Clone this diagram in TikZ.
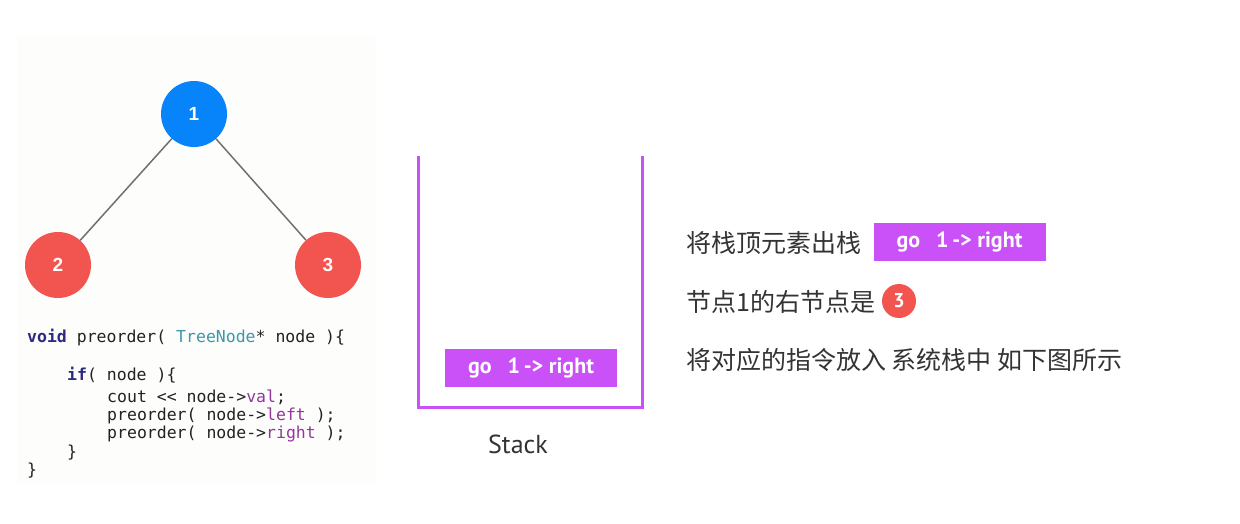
\documentclass[tikz,border=0pt]{standalone}
\usepackage{fontspec}
\setmainfont{PT Sans}
\newfontfamily\cjk{Noto Sans CJK SC}
\newfontfamily\codefont{DejaVu Sans Mono}
\newfontfamily\digitfont{Liberation Sans}
\newfontfamily\latinfont{PT Sans}
\definecolor{nodeblue}{RGB}{8,132,250}
\definecolor{nodered}{RGB}{242,85,80}
\definecolor{stackpurple}{RGB}{201,81,247}
\definecolor{edgegray}{RGB}{112,112,112}
\definecolor{panelbg}{RGB}{253,253,252}
\definecolor{txt}{RGB}{51,51,51}
\definecolor{kwnavy}{RGB}{42,42,128}
\definecolor{kwteal}{RGB}{59,154,166}
\definecolor{kwpurple}{RGB}{147,56,154}
\definecolor{codetxt}{RGB}{34,34,34}
\tikzset{
  treenode/.style={circle, minimum size=66pt, inner sep=0pt, text=white,
    font=\digitfont\fontsize{19}{19}\selectfont\bfseries},
  treeedge/.style={draw=edgegray, line width=1.5pt},
  codeline/.style={anchor=base west, inner sep=0pt, text=codetxt,
    font=\codefont\fontsize{16.5}{18}\selectfont},
  cmdbox/.style={fill=stackpurple, minimum width=172pt, minimum height=38pt,
    inner sep=0pt, text=white, font=\latinfont\fontsize{22}{22}\selectfont\bfseries},
  cntext/.style={anchor=west, inner sep=0pt, text=txt,
    font=\cjk\fontsize{25}{25}\selectfont},
  stackwall/.style={draw=stackpurple, line width=3pt},
}
\begin{document}
\begin{tikzpicture}[x=1pt,y=-1pt]
\useasboundingbox (0,0) rectangle (1240,524);
% left panel
\fill[panelbg] (17,36) rectangle (376,483);
% tree
\node[treenode, fill=nodeblue] (n1) at (194,114) {1};
\node[treenode, fill=nodered] (n2) at (58,265) {2};
\node[treenode, fill=nodered] (n3) at (328,265) {3};
\draw[treeedge] (n1) -- (n2);
\draw[treeedge] (n1) -- (n3);
% code
\node[codeline] (c1) at (27,342) {\textcolor{kwnavy}{\bfseries void} preorder( \textcolor{kwteal}{TreeNode}* node )\{};
\node[codeline] (c2) at (67,380) {\textcolor{kwnavy}{\bfseries if}( node )\{};
\node[codeline] (c3) at (107,402) {cout <{}< node->\textcolor{kwpurple}{val};};
\node[codeline] (c4) at (107,420) {preorder( node->\textcolor{kwpurple}{left} );};
\node[codeline] (c5) at (107,438) {preorder( node->\textcolor{kwpurple}{right} );};
\node[codeline] (c6) at (67,457) {\}};
\node[codeline] (c7) at (27,475) {\}};
% stack
\coordinate (stl) at (418,156);
\coordinate (sbl) at (418,407);
\coordinate (sbr) at (642,407);
\coordinate (str) at (642,156);
\draw[stackwall, line join=miter] (stl) -- (sbl) -- (sbr) -- (str);
\node[cmdbox] (sitem) at (531,368) {go\hspace{16pt}1\,-> right};
\node[text=txt, font=\latinfont\fontsize{26}{26}\selectfont, inner sep=0pt] (slabel) at (518,444) {Stack};
% right explanation
\node[cntext] (t1) at (686,243) {将栈顶元素出栈};
\node[cmdbox] (tbox) at (959.5,242) {go\hspace{16pt}1\,-> right};
\node[cntext] (t2) at (686,302) {节点1的右节点是};
\node[circle, fill=nodered, minimum size=34pt, inner sep=0pt, text=white,
  font=\latinfont\fontsize{20}{20}\selectfont\bfseries] (r3) at (899,301) {3};
\node[cntext] (t3) at (686,360) {将对应的指令放入 系统栈中 如下图所示};
\end{tikzpicture}
\end{document}
